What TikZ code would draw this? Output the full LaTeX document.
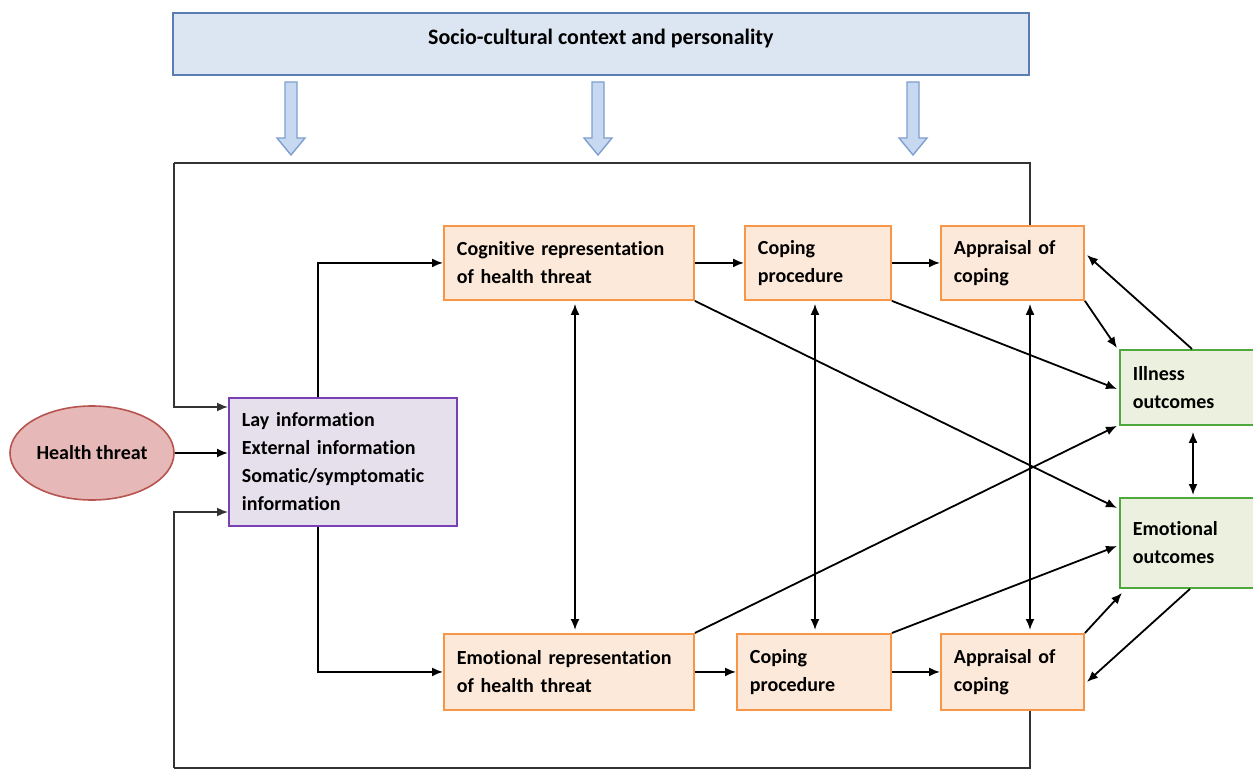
\documentclass[tikz,border=0pt]{standalone}
\usepackage{fontspec}
\setmainfont{Carlito}[Ligatures=NoCommon]
\usetikzlibrary{arrows.meta,shapes.geometric,calc}
\definecolor{bannerfill}{HTML}{DCE6F2}
\definecolor{bannerline}{HTML}{5A7DB5}
\definecolor{barrowfill}{HTML}{C6D9F1}
\definecolor{barrowline}{HTML}{7F9FCF}
\definecolor{ofill}{HTML}{FDE9D9}
\definecolor{oline}{HTML}{F79646}
\definecolor{gfill}{HTML}{EBF1DE}
\definecolor{gline}{HTML}{4FA83D}
\definecolor{pfill}{HTML}{E6E0EC}
\definecolor{pline}{HTML}{7B3FB5}
\definecolor{rfill}{HTML}{E6B9B8}
\definecolor{rline}{HTML}{B85450}
\definecolor{loopc}{HTML}{333333}
\tikzset{
  basebox/.style={rectangle, anchor=north west, align=left, inner xsep=13pt, inner ysep=0pt, line width=1.9pt},
  obox/.style={basebox, draw=oline, fill=ofill},
  gbox/.style={basebox, draw=gline, fill=gfill},
  pbox/.style={basebox, draw=pline, fill=pfill},
  arr/.style={-{Latex[length=11pt,width=9pt]}, line width=1.8pt, black},
  darr/.style={{Latex[length=11pt,width=9pt]}-{Latex[length=11pt,width=9pt]}, line width=1.8pt, black},
  loopline/.style={line width=1.6pt, loopc},
  looparr/.style={loopline, -{Latex[length=11pt,width=9pt]}},
  barrow/.style={draw=barrowline, fill=barrowfill, line width=1.4pt, line join=miter}
}
\newcommand{\blockarrow}[1]{%
  \draw[barrow] (#1-6,82) -- (#1+6,82) -- (#1+6,138) -- (#1+14,138) -- (#1,155) -- (#1-14,138) -- (#1-6,138) -- cycle;}
\begin{document}
\begin{tikzpicture}[x=1pt,y=-1pt, font=\fontsize{20}{28}\selectfont\bfseries]
\useasboundingbox (0,0) rectangle (1253,770);
\clip (0,0) rectangle (1253,770);

% banner
\node[rectangle, anchor=north west, draw=bannerline, fill=bannerfill, line width=1.6pt,
      minimum width=856pt, minimum height=62pt, inner sep=0pt, text depth=15pt,
      font=\fontsize{22}{28}\selectfont\bfseries] (ctx) at (172,12)
      {Socio-cultural context and personality};
\blockarrow{291}
\blockarrow{598}
\blockarrow{913}

% nodes
\node[ellipse, draw=rline, fill=rfill, line width=1.6pt, minimum width=164pt, minimum height=94pt, inner sep=0pt] (ht) at (92,453) {Health threat};
\node[pbox, text width=202pt, minimum height=128pt] (lay) at (228,397)
  {Lay information\\External information\\Somatic/symptomatic\\information};
\node[obox, text width=224pt, minimum height=74pt] (cog) at (443,225) {Cognitive representation\\of health threat};
\node[obox, text width=120pt, minimum height=74pt] (copT) at (744,225) {Coping\\procedure};
\node[obox, text width=117pt, minimum height=74pt] (appT) at (940,225) {Appraisal of\\coping};
\node[obox, text width=224pt, minimum height=76pt] (emo) at (443,633) {Emotional representation\\of health threat};
\node[obox, text width=128pt, minimum height=76pt] (copB) at (736,633) {Coping\\procedure};
\node[obox, text width=117pt, minimum height=76pt] (appB) at (940,633) {Appraisal of\\coping};
\node[gbox, text width=122pt, minimum height=75pt] (illO) at (1119,349) {Illness\\outcomes};
\node[gbox, text width=122pt, minimum height=90pt] (emoO) at (1119,497) {Emotional\\outcomes};

% feedback loops
\draw[loopline] (1030,0 |- appT.north) |- (174,163);
\draw[looparr] (174,163) |- (lay.west |- 0,407);
\draw[loopline] (1030,0 |- appB.south) |- (174,768);
\draw[looparr] (174,768) |- (lay.west |- 0,512);

% health threat to lay
\draw[arr] (ht.east) -- (lay.west |- ht.east);

% lay to representations
\draw[arr] (318,0 |- lay.north) |- (cog.west);
\draw[arr] (318,0 |- lay.south) |- (emo.west);

% horizontal chains
\draw[arr] (cog.east) -- (copT.west);
\draw[arr] (copT.east) -- (appT.west);
\draw[arr] (emo.east) -- (copB.west);
\draw[arr] (copB.east) -- (appB.west);

% vertical double arrows
\draw[darr, shorten <=3pt, shorten >=3pt] (575,0 |- cog.south) -- (575,0 |- emo.north);
\draw[darr, shorten <=3pt, shorten >=3pt] (815,0 |- copT.south) -- (815,0 |- copB.north);
\draw[darr, shorten <=3pt, shorten >=3pt] (1030,0 |- appT.south) -- (1030,0 |- appB.north);
\draw[darr, shorten <=6pt, shorten >=2pt] (1193,0 |- illO.south) -- (1193,0 |- emoO.north);

% diagonals
\draw[arr] (cog.south east) -- ($(emoO.north west)+(-2,11)$);
\draw[arr] (copT.south east) -- ($(illO.north west)+(-2,40)$);
\draw[arr] (emo.north east) -- ($(illO.south west)+(-2,0)$);
\draw[arr] (copB.north east) -- ($(emoO.north west)+(-2,49)$);
\draw[arr] (appT.south east) -- ($(illO.north west)+(-2,-1)$);
\draw[arr] (1192,0 |- illO.north) -- ($(appT.north east)+(2,30)$);
\draw[arr] (appB.north east) -- ($(emoO.south west)+(3,4)$);
\draw[arr] (1190,0 |- emoO.south) -- ($(appB.north east)+(2,49)$);
\end{tikzpicture}
\end{document}
